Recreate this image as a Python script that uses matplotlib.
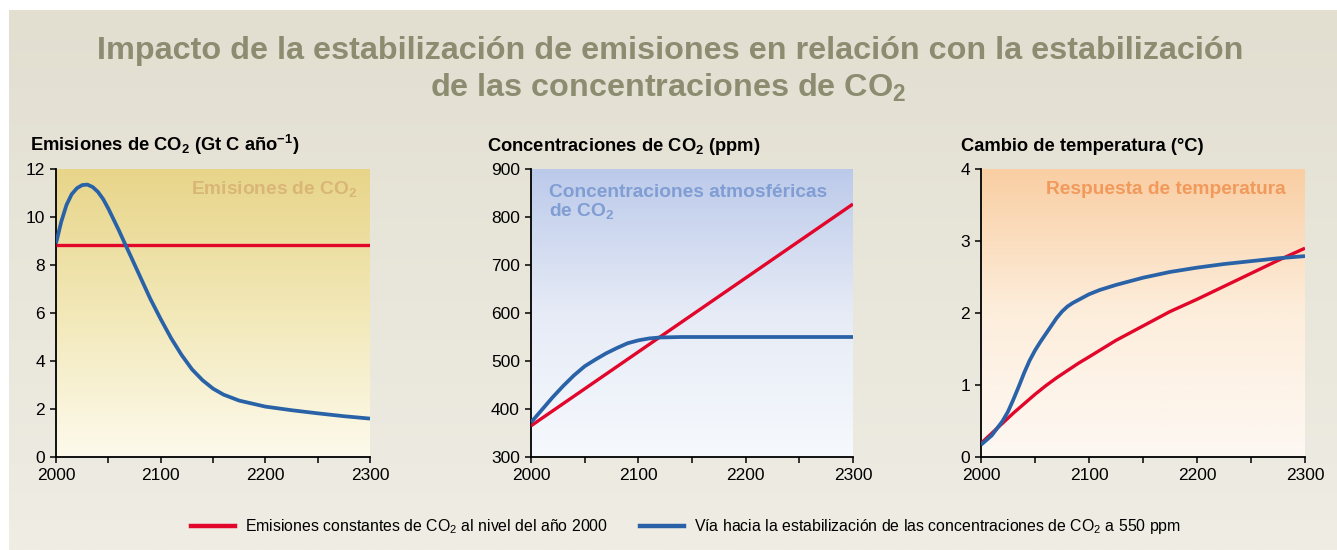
import numpy as np
import matplotlib
matplotlib.use("Agg")
import matplotlib.pyplot as plt
from matplotlib.colors import LinearSegmentedColormap
from matplotlib.lines import Line2D

# emisiones (Gt C / año)
em_years = [2000, 2300]
em_const = [8.85, 8.85]
em_stab_years = [2000, 2005, 2010, 2015, 2020, 2025, 2030, 2035, 2040, 2045, 2050, 2055, 2060,
                 2065, 2070, 2080, 2090, 2100, 2110, 2120, 2130, 2140, 2150, 2160, 2175, 2200,
                 2225, 2250, 2275, 2300]
em_stab = [8.9, 9.8, 10.5, 10.95, 11.2, 11.33, 11.35, 11.25, 11.05, 10.75, 10.35, 9.9, 9.45,
           8.97, 8.5, 7.55, 6.6, 5.75, 4.95, 4.25, 3.65, 3.2, 2.85, 2.6, 2.35, 2.1, 1.95,
           1.82, 1.7, 1.6]

# concentraciones (ppm)
conc_years = [2000, 2300]
conc_const = [365, 827]
conc_stab_years = [2000, 2010, 2020, 2030, 2040, 2050, 2060, 2070, 2080, 2090, 2100, 2110,
                   2120, 2140, 2200, 2300]
conc_stab = [372, 398, 424, 448, 470, 489, 503, 516, 527, 537, 543, 547, 549, 550, 550, 550]

# cambio de temperatura (°C)
temp_years = [2000, 2010, 2020, 2030, 2040, 2050, 2060, 2070, 2080, 2090, 2100, 2125, 2150,
              2175, 2200, 2225, 2250, 2275, 2300]
temp_const = [0.19, 0.33, 0.47, 0.61, 0.74, 0.87, 0.99, 1.10, 1.20, 1.30, 1.39, 1.62, 1.82,
              2.02, 2.19, 2.37, 2.55, 2.73, 2.90]
temp_stab_years = [2000, 2010, 2020, 2025, 2030, 2035, 2040, 2045, 2050, 2055, 2060, 2065,
                   2070, 2075, 2080, 2085, 2090, 2095, 2100, 2110, 2125, 2150, 2175, 2200,
                   2225, 2250, 2275, 2300]
temp_stab = [0.17, 0.30, 0.50, 0.63, 0.80, 0.98, 1.17, 1.34, 1.48, 1.60, 1.71, 1.82, 1.93,
             2.02, 2.09, 2.14, 2.18, 2.22, 2.26, 2.32, 2.39, 2.49, 2.57, 2.63, 2.68, 2.72,
             2.76, 2.79]

RED = "#e1062a"
BLUE = "#2a62a8"

plt.rcParams["font.family"] = ["Liberation Sans", "DejaVu Sans"]
plt.rcParams["mathtext.default"] = "regular"

W, H = 1337, 550
fig = plt.figure(figsize=(W / 100, H / 100), dpi=100, facecolor="white")


def fx(px):
    return px / W


def fy(py):
    return 1 - py / H


# fondo general con degradado
bg = fig.add_axes([fx(9), 0, 1 - fx(9), fy(10)], zorder=-10)
bg_cmap = LinearSegmentedColormap.from_list("bg", ["#e2dfd1", "#efede4"])
bg.imshow(np.linspace(0, 1, 256).reshape(-1, 1), cmap=bg_cmap, aspect="auto",
          extent=[0, 1, 0, 1], origin="upper")
bg.axis("off")

fig.text(0.501, fy(59), "Impacto de la estabilización de emisiones en relación con la estabilización",
         ha="center", va="baseline", fontsize=23.3, fontweight="bold", color="#8c8c70")
fig.text(0.500, fy(97), "de las concentraciones de CO$_2$",
         ha="center", va="baseline", fontsize=23.3, fontweight="bold", color="#8c8c70")

panels = [
    dict(left=56, right=370, title="Emisiones de CO$_2$ (Gt C año$^{-1}$)", title_x=30,
         ylim=(0, 12), yticks=range(0, 13, 2),
         grad=["#e8d58a", "#f2e8b8", "#fdfaec"],
         label="Emisiones de CO$_2$", label_color="#d9b676", label_pos=(357, 194), ha="right"),
    dict(left=531, right=853, title="Concentraciones de CO$_2$ (ppm)", title_x=487,
         ylim=(300, 900), yticks=range(300, 901, 100),
         grad=["#bccaea", "#e6ebf6", "#f6f9fd"],
         label="Concentraciones atmosféricas\nde CO$_2$", label_color="#809dd4",
         label_pos=(549, 216), ha="left"),
    dict(left=981, right=1305, title="Cambio de temperatura (°C)", title_x=961,
         ylim=(0, 4), yticks=range(0, 5),
         grad=["#f9cea3", "#fdeedc", "#fdf8f3"],
         label="Respuesta de temperatura", label_color="#f29a5c", label_pos=(1286, 194), ha="right"),
]
series = [
    (em_years, em_const, em_stab_years, em_stab),
    (conc_years, conc_const, conc_stab_years, conc_stab),
    (temp_years, temp_const, temp_stab_years, temp_stab),
]

top, bottom = 169, 457
for p, (xr, yr, xb, yb) in zip(panels, series):
    ax = fig.add_axes([fx(p["left"]), fy(bottom), fx(p["right"] - p["left"]), (bottom - top) / H])
    ax.set_xlim(2000, 2300)
    ax.set_ylim(*p["ylim"])
    cmap = LinearSegmentedColormap.from_list("g", p["grad"])
    ax.imshow(np.linspace(0, 1, 256).reshape(-1, 1), cmap=cmap, aspect="auto",
              extent=[2000, 2300, p["ylim"][0], p["ylim"][1]], origin="upper", zorder=0)
    ax.plot(xr, yr, color=RED, lw=2.4, solid_capstyle="butt", zorder=3)
    ax.plot(xb, yb, color=BLUE, lw=2.7, solid_capstyle="butt", solid_joinstyle="round", zorder=4)

    ax.set_xticks([2000, 2100, 2200, 2300])
    ax.set_xticks([2050, 2150, 2250], minor=True)
    ax.set_yticks(list(p["yticks"]))
    for s in ("top", "right"):
        ax.spines[s].set_visible(False)
    for s in ("left", "bottom"):
        ax.spines[s].set_linewidth(1.3)
    ax.tick_params(which="both", direction="out", length=4, width=1.1, labelsize=12.5, pad=4)
    ax.patch.set_alpha(0)

    fig.text(fx(p["title_x"]), fy(151), p["title"], ha="left", va="baseline",
             fontsize=13.2, fontweight="bold", color="black")
    lx, ly = p["label_pos"]
    fig.text(fx(lx), fy(ly), p["label"], ha=p["ha"], va="baseline", fontsize=13.8,
             fontweight="bold", color=p["label_color"], linespacing=1.0)

handles = [Line2D([], [], color=RED, lw=3.2),
           Line2D([], [], color=BLUE, lw=3.2)]
labels = ["Emisiones constantes de CO$_2$ al nivel del año 2000",
          "Vía hacia la estabilización de las concentraciones de CO$_2$ a 550 ppm"]
fig.legend(handles, labels, loc="center", bbox_to_anchor=(fx(686), fy(527)), ncol=2,
           frameon=False, handlelength=2.8, handletextpad=0.65,
           columnspacing=2.0, prop={"size": 11.4})

fig.savefig("out.png", dpi=100, facecolor="white")
